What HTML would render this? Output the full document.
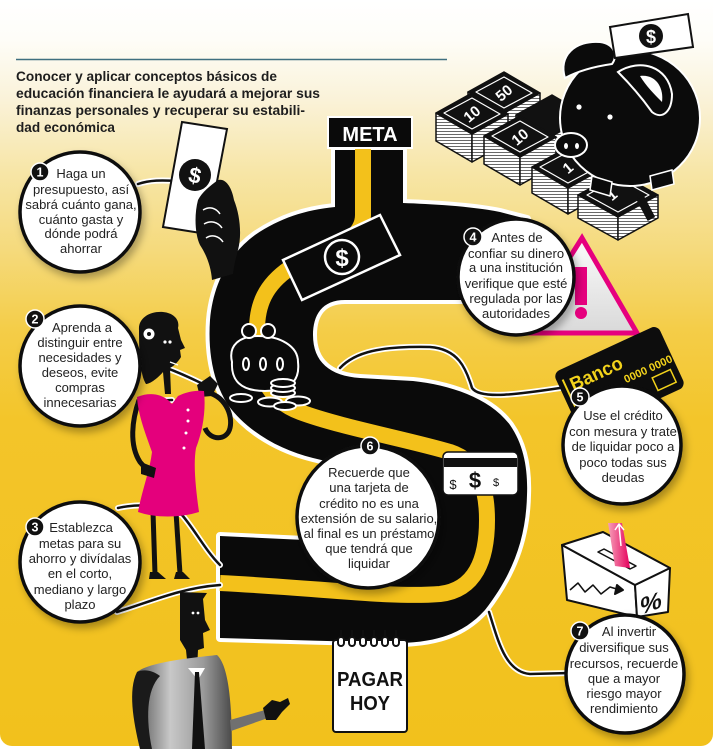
<!DOCTYPE html>
<html><head><meta charset="utf-8">
<style>
html,body{margin:0;padding:0;background:#fff;}
svg{display:block;}
text{font-family:"Liberation Sans",Arial,sans-serif;}
</style></head><body>
<svg width="720" height="749" viewBox="0 0 720 749" xmlns="http://www.w3.org/2000/svg">
<defs>
<linearGradient id="bg" x1="0" y1="0" x2="0" y2="749" gradientUnits="userSpaceOnUse">
<stop offset="0" stop-color="#ffffff"/>
<stop offset="0.053" stop-color="#fefdf8"/>
<stop offset="0.134" stop-color="#faf2d8"/>
<stop offset="0.227" stop-color="#f7e6a8"/>
<stop offset="0.334" stop-color="#f5da7c"/>
<stop offset="0.44" stop-color="#f4cd48"/>
<stop offset="0.56" stop-color="#f3c52a"/>
<stop offset="1" stop-color="#f2c11c"/>
</linearGradient>
<filter id="sh" x="-30%" y="-30%" width="170%" height="170%">
<feDropShadow dx="3" dy="5" stdDeviation="4" flood-color="#000" flood-opacity="0.3"/>
</filter>
<pattern id="pages" width="6" height="3" patternUnits="userSpaceOnUse">
<rect width="6" height="3" fill="#fff"/><rect y="2" width="6" height="0.8" fill="#444"/>
</pattern>
<linearGradient id="suit" x1="0" y1="0" x2="1" y2="0">
<stop offset="0" stop-color="#5a5a5a"/><stop offset="0.35" stop-color="#c8c8c8"/><stop offset="0.7" stop-color="#9a9a9a"/><stop offset="1" stop-color="#4a4a4a"/>
</linearGradient>
<linearGradient id="tri" x1="0" y1="0" x2="0" y2="1">
<stop offset="0" stop-color="#fbfbfb"/><stop offset="1" stop-color="#d9d9d9"/>
</linearGradient>
<linearGradient id="pink" x1="0" y1="0" x2="1" y2="0">
<stop offset="0" stop-color="#f6a0b8"/><stop offset="1" stop-color="#e6005e"/>
</linearGradient>
</defs>

<!-- background -->
<rect width="720" height="749" fill="#fff"/>
<rect x="0" y="-20" width="713" height="766" rx="12" fill="url(#bg)"/>

<!-- header line + title -->
<line x1="16" y1="59.5" x2="447" y2="59.5" stroke="#3f6f7f" stroke-width="1.5"/>
<g font-size="14" font-weight="bold" fill="#1e1e1e">
<text x="16" y="81" textLength="261" lengthAdjust="spacingAndGlyphs">Conocer y aplicar conceptos básicos de</text>
<text x="16" y="98" textLength="304" lengthAdjust="spacingAndGlyphs">educación financiera le ayudará a mejorar sus</text>
<text x="16" y="115" textLength="289" lengthAdjust="spacingAndGlyphs">finanzas personales y recuperar su estabili-</text>
<text x="16" y="132" textLength="99" lengthAdjust="spacingAndGlyphs">dad económica</text>
</g>

<!-- money stacks -->
<g stroke="#111" stroke-width="1.5" stroke-linejoin="round">
 <!-- S2 -->
 <polygon points="468,92 504,113 504,139 468,118" fill="url(#pages)"/>
 <polygon points="504,113 540,93 540,119 504,139" fill="url(#pages)"/>
 <polygon points="468,92 504,72 540,93 504,113" fill="#111"/>
 <polygon points="476,92 504,77 532,93 504,108" fill="none" stroke="#fff" stroke-width="1.2"/>
 <!-- S3b -->
 <polygon points="516,115 552,136 552,162 516,141" fill="url(#pages)"/>
 <polygon points="552,136 588,116 588,142 552,162" fill="url(#pages)"/>
 <polygon points="516,115 552,95 588,116 552,136" fill="#111"/>
 <!-- S1 -->
 <polygon points="436,113 472,134 472,162 436,141" fill="url(#pages)"/>
 <polygon points="472,134 508,114 508,142 472,162" fill="url(#pages)"/>
 <polygon points="436,113 472,93 508,114 472,134" fill="#111"/>
 <polygon points="444,113 472,98 500,114 472,129" fill="none" stroke="#fff" stroke-width="1.2"/>
 <!-- S3 -->
 <polygon points="484,136 520,157 520,185 484,164" fill="url(#pages)"/>
 <polygon points="520,157 556,137 556,165 520,185" fill="url(#pages)"/>
 <polygon points="484,136 520,116 556,137 520,157" fill="#111"/>
 <polygon points="492,136 520,121 548,137 520,152" fill="none" stroke="#fff" stroke-width="1.2"/>
 <!-- S4 -->
 <polygon points="532,167 568,188 568,214 532,193" fill="url(#pages)"/>
 <polygon points="568,188 604,168 604,194 568,214" fill="url(#pages)"/>
 <polygon points="532,167 568,147 604,168 568,188" fill="#111"/>
 <polygon points="540,167 568,152 596,168 568,183" fill="none" stroke="#fff" stroke-width="1.2"/>
 <!-- S5 -->
 <polygon points="578,195 618,217 618,240 578,218" fill="url(#pages)"/>
 <polygon points="618,217 658,195 658,218 618,240" fill="url(#pages)"/>
 <polygon points="578,195 618,173 658,195 618,217" fill="#111"/>
 <polygon points="587,195 618,178 649,195 618,212" fill="none" stroke="#fff" stroke-width="1.2"/>
 <rect x="642" y="196" width="7" height="24" fill="#111" transform="rotate(-28 645 208)"/>
</g>
<g fill="#fff" font-weight="bold" font-size="15" text-anchor="middle">
 <text x="472" y="119" transform="rotate(-40 472 114)">10</text>
 <text x="504" y="98" transform="rotate(-40 504 93)">50</text>
 <text x="520" y="142" transform="rotate(-40 520 137)">10</text>
 <text x="568" y="173" transform="rotate(-40 568 168)">1</text>
 <text x="612" y="200" transform="rotate(-40 612 195)">1</text>
</g>

<!-- piggy bank -->
<g>
 <ellipse cx="630" cy="118" rx="70" ry="68" fill="#0b0b0b" stroke="#fff" stroke-width="2"/>
 <path d="M565,78 C558,56 575,40 600,42 C615,44 618,56 612,64 C598,66 580,70 565,78 Z" fill="#0b0b0b" stroke="#fff" stroke-width="2"/>
 <path d="M618,72 C640,58 668,66 672,94 C672,112 662,120 652,112 C642,98 630,84 618,72 Z" fill="#0b0b0b" stroke="#fff" stroke-width="2"/>
 <path d="M640,76 C656,74 664,88 662,102 C654,94 646,86 640,76 Z" fill="#fff"/>
 <circle cx="579" cy="107" r="2.6" fill="#fff"/>
 <circle cx="610" cy="117" r="2.6" fill="#fff"/>
 <ellipse cx="571" cy="145" rx="16" ry="12" fill="#0b0b0b" stroke="#fff" stroke-width="2"/>
 <ellipse cx="566" cy="146" rx="2" ry="3" fill="#fff"/>
 <ellipse cx="577" cy="146" rx="2" ry="3" fill="#fff"/>
 <path d="M592,176 L612,182 L610,196 L590,190 Z" fill="#0b0b0b" stroke="#fff" stroke-width="1.5"/>
 <path d="M650,176 L672,170 L674,184 L652,190 Z" fill="#0b0b0b" stroke="#fff" stroke-width="1.5"/>
 <polygon points="610,27 688,14 693,47 615,58" fill="#fff" stroke="#111" stroke-width="2"/>
 <circle cx="651" cy="36" r="12" fill="#111"/>
 <text x="651" y="43" font-size="18" font-weight="bold" fill="#fff" text-anchor="middle">$</text>
</g>

<!-- warning triangle -->
<g>
 <polygon points="582,238 522,333 637,333" fill="url(#tri)" stroke="#e6007e" stroke-width="5" stroke-linejoin="miter"/>
 <rect x="575" y="267" width="12" height="38" fill="#e6007e"/>
 <circle cx="581" cy="313" r="6" fill="#e6007e"/>
</g>

<!-- S road -->
<path d="M335,150 L403,150 L403,203 C430,204 470,206 500,212 L527,219 L528,300 L345,300 C322,300 313,315 313,335 C313,362 330,376 360,378 L413,381 C450,385 490,398 510,425 C524,445 528,470 527,495 C526,540 512,575 485,610 C465,632 440,642 400,643 L220,638 L220,536 L305,540 L330,480 L342,465 L313,458 C280,450 248,432 228,405 C212,380 208,350 210,320 C213,285 228,255 255,235 C280,218 305,210 335,207 Z" fill="#fff" stroke="#fff" stroke-width="8" stroke-linejoin="round"/>
<path d="M335,150 L403,150 L403,203 C430,204 470,206 500,212 L527,219 L528,300 L345,300 C322,300 313,315 313,335 C313,362 330,376 360,378 L413,381 C450,385 490,398 510,425 C524,445 528,470 527,495 C526,540 512,575 485,610 C465,632 440,642 400,643 L220,638 L220,536 L305,540 L330,480 L342,465 L313,458 C280,450 248,432 228,405 C212,380 208,350 210,320 C213,285 228,255 255,235 C280,218 305,210 335,207 Z" fill="#0a0a0a"/>
<path d="M363,148 L363,215 C363,245 320,250 290,268 C265,285 257,305 257,330 C257,375 268,400 300,412 C340,427 410,440 450,452 C480,462 487,490 487,520 C487,560 475,590 440,594 C390,598 320,588 220,583" fill="none" stroke="#f3c11b" stroke-width="16"/>

<!-- META -->
<rect x="328" y="117" width="84" height="31" fill="#0a0a0a" stroke="#fff" stroke-width="2"/>
<text x="370" y="141" font-size="20" font-weight="bold" fill="#fff" text-anchor="middle">META</text>

<!-- connectors -->
<g fill="none" stroke-linecap="round">
 <g stroke="#fff" stroke-width="6">
  <path d="M138,184 C150,180 162,180 176,181"/>
  <path d="M140,360 C160,364 185,375 207,386"/>
  <path d="M138,404 C150,402 160,400 172,400"/>
  <path d="M118,508 C140,503 165,505 182,515 C195,530 205,550 220,565"/>
  <path d="M117,612 C150,602 180,588 220,585"/>
  <path d="M340,368 C355,352 380,346 430,347 C458,349 466,368 472,388 C480,400 520,394 560,388"/>
  <path d="M489,612 C498,640 505,672 530,674 L570,673"/>
 </g>
 <g stroke="#111" stroke-width="2.5">
  <path d="M138,184 C150,180 162,180 176,181"/>
  <path d="M140,360 C160,364 185,375 207,386"/>
  <path d="M138,404 C150,402 160,400 172,400"/>
  <path d="M118,508 C140,503 165,505 182,515 C195,530 205,550 220,565"/>
  <path d="M117,612 C150,602 180,588 220,585"/>
  <path d="M340,368 C355,352 380,346 430,347 C458,349 466,368 472,388 C480,400 520,394 560,388"/>
  <path d="M489,612 C498,640 505,672 530,674 L570,673"/>
 </g>
</g>

<!-- bill on road -->
<g>
 <polygon points="283,260 380,215 400,255 302,300" fill="#0a0a0a" stroke="#fff" stroke-width="2.5"/>
 <circle cx="342" cy="257" r="17" fill="#0a0a0a" stroke="#fff" stroke-width="2.5"/>
 <text x="342" y="266" font-size="24" font-weight="bold" fill="#fff" text-anchor="middle">$</text>
</g>

<!-- purse + coins -->
<g stroke="#fff" stroke-width="2" fill="#0a0a0a">
 <path d="M232,362 C228,345 240,336 258,336 C280,336 298,346 298,362 C300,380 292,390 265,391 C240,391 231,380 232,362 Z"/>
 <circle cx="249" cy="331" r="7"/>
 <circle cx="268" cy="331" r="7"/>
 <ellipse cx="246" cy="364" rx="3" ry="6"/>
 <ellipse cx="263" cy="364" rx="3" ry="6"/>
 <ellipse cx="280" cy="364" rx="3" ry="6"/>
 <ellipse cx="241" cy="398" rx="11" ry="4"/>
 <ellipse cx="283" cy="393" rx="12" ry="4"/>
 <ellipse cx="283" cy="388" rx="12" ry="4"/>
 <ellipse cx="283" cy="383" rx="12" ry="4"/>
 <ellipse cx="270" cy="402" rx="12" ry="4.5"/>
 <ellipse cx="298" cy="401" rx="12" ry="4.5"/>
 <ellipse cx="285" cy="406" rx="11" ry="4"/>
</g>

<!-- credit card on road -->
<g>
 <rect x="443" y="452" width="75" height="43" rx="5" fill="#fff" stroke="#111" stroke-width="1.5"/>
 <rect x="444" y="458" width="73" height="9" fill="#111"/>
 <text x="453" y="489" font-size="13" fill="#111" text-anchor="middle">$</text>
 <text x="475" y="488" font-size="22" font-weight="bold" fill="#111" text-anchor="middle">$</text>
 <text x="496" y="486" font-size="11" fill="#111" text-anchor="middle">$</text>
</g>

<!-- calendar -->
<g>
 <rect x="333" y="640" width="74" height="92" rx="3" fill="#fff" stroke="#111" stroke-width="2"/>
 <g fill="#fff" stroke="#111" stroke-width="2">
  <rect x="338" y="637" width="6" height="9" rx="3"/>
  <rect x="349" y="637" width="6" height="9" rx="3"/>
  <rect x="360" y="637" width="6" height="9" rx="3"/>
  <rect x="371" y="637" width="6" height="9" rx="3"/>
  <rect x="382" y="637" width="6" height="9" rx="3"/>
  <rect x="393" y="637" width="6" height="9" rx="3"/>
 </g>
 <g stroke="#111" stroke-width="1.5">
  <line x1="341" y1="630" x2="341" y2="638"/><line x1="352" y1="630" x2="352" y2="638"/>
  <line x1="363" y1="630" x2="363" y2="638"/><line x1="374" y1="630" x2="374" y2="638"/>
  <line x1="385" y1="630" x2="385" y2="638"/><line x1="396" y1="630" x2="396" y2="638"/>
 </g>
 <text x="370" y="686" font-size="20" font-weight="bold" fill="#111" text-anchor="middle" textLength="66" lengthAdjust="spacingAndGlyphs">PAGAR</text>
 <text x="370" y="710" font-size="20" font-weight="bold" fill="#111" text-anchor="middle" textLength="40" lengthAdjust="spacingAndGlyphs">HOY</text>
</g>

<!-- hand with bill -->
<g>
 <polygon points="182,122 227,129 207,234 163,227" fill="#fff" stroke="#111" stroke-width="2"/>
 <circle cx="195" cy="175" r="16" fill="#111"/>
 <text x="195" y="183" font-size="22" font-weight="bold" fill="#fff" text-anchor="middle" transform="rotate(12 195 175)">$</text>
 <path d="M198,200 C202,192 210,186 218,180 C226,178 232,188 234,200 C240,215 242,235 238,250 C236,258 234,265 233,274 L212,280 C211,266 206,254 200,245 C195,235 194,215 198,200 Z" fill="#111"/>
 <g stroke="#fff" stroke-width="1.5" fill="none">
  <path d="M203,210 C210,206 216,208 220,214"/>
  <path d="M204,224 C211,220 218,222 222,228"/>
  <path d="M206,238 C212,234 219,236 223,242"/>
 </g>
</g>

<!-- woman -->
<g>
 <path d="M205,392 C225,395 233,415 230,428 C227,441 210,441 205,428" fill="none" stroke="#111" stroke-width="5"/>
 <path d="M197,385 L210,376 L218,384 L212,396 L200,397 Z" fill="#111"/>
 <path d="M139,330 C138,318 150,311 163,312 C174,313 180,320 178,328 L181,340 L185,348 L180,350 L181,357 C178,362 174,366 170,368 L171,394 L165,394 L163,372 C158,378 150,384 146,384 C140,375 139,350 139,330 Z" fill="#111"/>
 <circle cx="149" cy="334" r="5.5" fill="#fff"/>
 <circle cx="149" cy="334" r="2" fill="#111"/>
 <circle cx="165" cy="342" r="1.6" fill="#fff"/>
 <circle cx="170" cy="342" r="1.6" fill="#fff"/>
 <line x1="170" y1="362" x2="178" y2="365" stroke="#fff" stroke-width="1.3"/>
 <path d="M139,400 C132,420 129,445 140,462 L147,470" fill="none" stroke="#111" stroke-width="5"/>
 <path d="M153,512 L155,574" stroke="#111" stroke-width="5"/>
 <path d="M176,512 L180,574" stroke="#111" stroke-width="5"/>
 <path d="M150,572 L158,572 L166,579 L149,579 Z" fill="#111"/>
 <path d="M176,572 L183,572 L190,579 L174,579 Z" fill="#111"/>
 <path d="M137,397 C150,392 160,394 168,400 L172,404 L178,396 C186,392 196,390 204,391 C206,410 203,430 196,448 C193,465 196,490 199,512 C180,518 155,518 138,512 C142,490 150,470 152,452 C146,435 138,415 137,397 Z" fill="#e4007c"/>
 <path d="M141,462 L156,468 L154,478 L141,474 Z" fill="#111"/>
 <g fill="#fff"><circle cx="188" cy="410" r="1.5"/><circle cx="188" cy="421" r="1.5"/><circle cx="186" cy="433" r="1.5"/><circle cx="184" cy="448" r="1.5"/></g>
</g>

<!-- man -->
<g>
 <path d="M180,592 L207,593 L203,599 L205,620 L210,630 L203,633 L204,648 L198,650 L197,670 L188,670 L186,650 L180,640 Z" fill="#111"/>
 <circle cx="193" cy="613" r="1.4" fill="#fff"/>
 <circle cx="198" cy="613" r="1.4" fill="#fff"/>
 <path d="M137,672 C150,662 190,658 217,655 C228,665 232,700 232,749 L150,749 C148,720 145,700 140,690 Z" fill="url(#suit)"/>
 <path d="M137,672 C128,690 133,720 140,749 L152,749 C146,720 146,690 160,676 C152,670 144,669 137,672 Z" fill="#1a1a1a"/>
 <path d="M188,668 L205,668 L198,680 Z" fill="#fff"/>
 <path d="M195,672 L199,672 L205,749 L192,749 Z" fill="#111"/>
 <path d="M230,720 L265,710 L268,718 L231,731 Z" fill="#707070"/>
 <path d="M263,708 L272,700 L280,702 L288,698 L290,704 L282,712 L276,720 L266,720 Z" fill="#111"/>
</g>

<!-- Banco card -->
<g transform="translate(553,373) rotate(-24.8)">
 <rect x="0" y="0" width="115" height="68" rx="7" fill="#0d0d0d"/>
 <line x1="6" y1="10" x2="6" y2="62" stroke="#f2d21b" stroke-width="2"/>
 <text x="11" y="25" font-size="19" font-weight="bold" fill="#f2d21b" textLength="56" lengthAdjust="spacingAndGlyphs">Banco</text>
 <text x="62" y="40" font-size="11" font-weight="bold" fill="#f2d21b">0000 0000</text>
 <rect x="88" y="46" width="20" height="14" fill="none" stroke="#f2d21b" stroke-width="1.5"/>
</g>

<!-- ballot box -->
<g stroke="#111" stroke-width="2" stroke-linejoin="round">
 <polygon points="562,545 635,585 637,617 567,600" fill="#fff"/>
 <polygon points="635,585 670,568 668,612 637,617" fill="#fff"/>
 <polygon points="562,545 603,532 670,568 635,585" fill="#fff"/>
 <polygon points="598,552 604,549 636,566 630,569" fill="#fff" stroke-width="1.5"/>
 <polygon points="608,523 622,523 630,568 615,566" fill="url(#pink)" stroke="none"/>
 <path d="M615,530 L619,524 L624,530 M619,525 L621,546" stroke="#fff" stroke-width="1.5" fill="none"/>
 <polyline points="570,590 578,583 585,592 593,585 601,594 610,587 620,590" fill="none" stroke-width="1.5"/>
 <path d="M617,585 L623,590 L615,594 Z" fill="#111"/>
</g>
<text x="651" y="611" font-size="24" font-weight="bold" fill="#111" text-anchor="middle" transform="skewY(-20) translate(0,237)">%</text>

<!-- circles -->
<g fill="#fff" stroke="#111" stroke-width="3.5" filter="url(#sh)">
 <circle cx="80" cy="212" r="60"/>
 <circle cx="80" cy="366" r="60"/>
 <circle cx="80" cy="562" r="60"/>
 <circle cx="516" cy="277" r="58"/>
 <circle cx="622" cy="445" r="59"/>
 <circle cx="368" cy="517" r="71"/>
 <circle cx="625" cy="674" r="59"/>
</g>

<!-- badges -->
<g fill="#111" stroke="#fff" stroke-width="1.5">
 <circle cx="40" cy="172" r="9"/>
 <circle cx="35" cy="319" r="9"/>
 <circle cx="35" cy="527" r="9"/>
 <circle cx="473" cy="237" r="9"/>
 <circle cx="580" cy="397" r="9"/>
 <circle cx="370" cy="446" r="9"/>
 <circle cx="580" cy="631" r="9"/>
</g>
<g fill="#fff" font-size="12.5" font-weight="bold" text-anchor="middle">
 <text x="40" y="176.5">1</text>
 <text x="35" y="323.5">2</text>
 <text x="35" y="531.5">3</text>
 <text x="473" y="241.5">4</text>
 <text x="580" y="401.5">5</text>
 <text x="370" y="450.5">6</text>
 <text x="580" y="635.5">7</text>
</g>

<!-- circle text -->
<g font-size="13" fill="#222" text-anchor="middle">
 <text x="81" y="178">Haga un</text>
 <text x="81" y="194">presupuesto, así</text>
 <text x="81" y="209">sabrá cuánto gana,</text>
 <text x="81" y="224">cuánto gasta y</text>
 <text x="81" y="238">dónde podrá</text>
 <text x="81" y="253">ahorrar</text>

 <text x="82" y="332">Aprenda a</text>
 <text x="80" y="347">distinguir entre</text>
 <text x="80" y="362">necesidades y</text>
 <text x="80" y="377">deseos, evite</text>
 <text x="80" y="392">compras</text>
 <text x="80" y="407">innecesarias</text>

 <text x="81" y="532">Establezca</text>
 <text x="80" y="548">metas para su</text>
 <text x="80" y="563">ahorro y divídalas</text>
 <text x="80" y="578">en el corto,</text>
 <text x="80" y="594">mediano y largo</text>
 <text x="80" y="609">plazo</text>

 <text x="517" y="242">Antes de</text>
 <text x="516" y="258">confiar su dinero</text>
 <text x="516" y="272">a una institución</text>
 <text x="516" y="288">verifique que esté</text>
 <text x="516" y="303">regulada por las</text>
 <text x="516" y="318">autoridades</text>

 <text x="623" y="420">Use el crédito</text>
 <text x="623" y="436">con mesura y trate</text>
 <text x="623" y="451">de liquidar poco a</text>
 <text x="623" y="467">poco todas sus</text>
 <text x="623" y="482">deudas</text>

 <text x="369" y="477">Recuerde que</text>
 <text x="369" y="492">una tarjeta de</text>
 <text x="369" y="508">crédito no es una</text>
 <text x="369" y="523">extensión de su salario,</text>
 <text x="369" y="538">al final es un préstamo</text>
 <text x="369" y="553">que tendrá que</text>
 <text x="369" y="568">liquidar</text>

 <text x="629" y="636">Al invertir</text>
 <text x="624" y="652">diversifique sus</text>
 <text x="624" y="668">recursos, recuerde</text>
 <text x="624" y="683">que a mayor</text>
 <text x="624" y="698">riesgo mayor</text>
 <text x="624" y="713">rendimiento</text>
</g>
</svg>
</body></html>
